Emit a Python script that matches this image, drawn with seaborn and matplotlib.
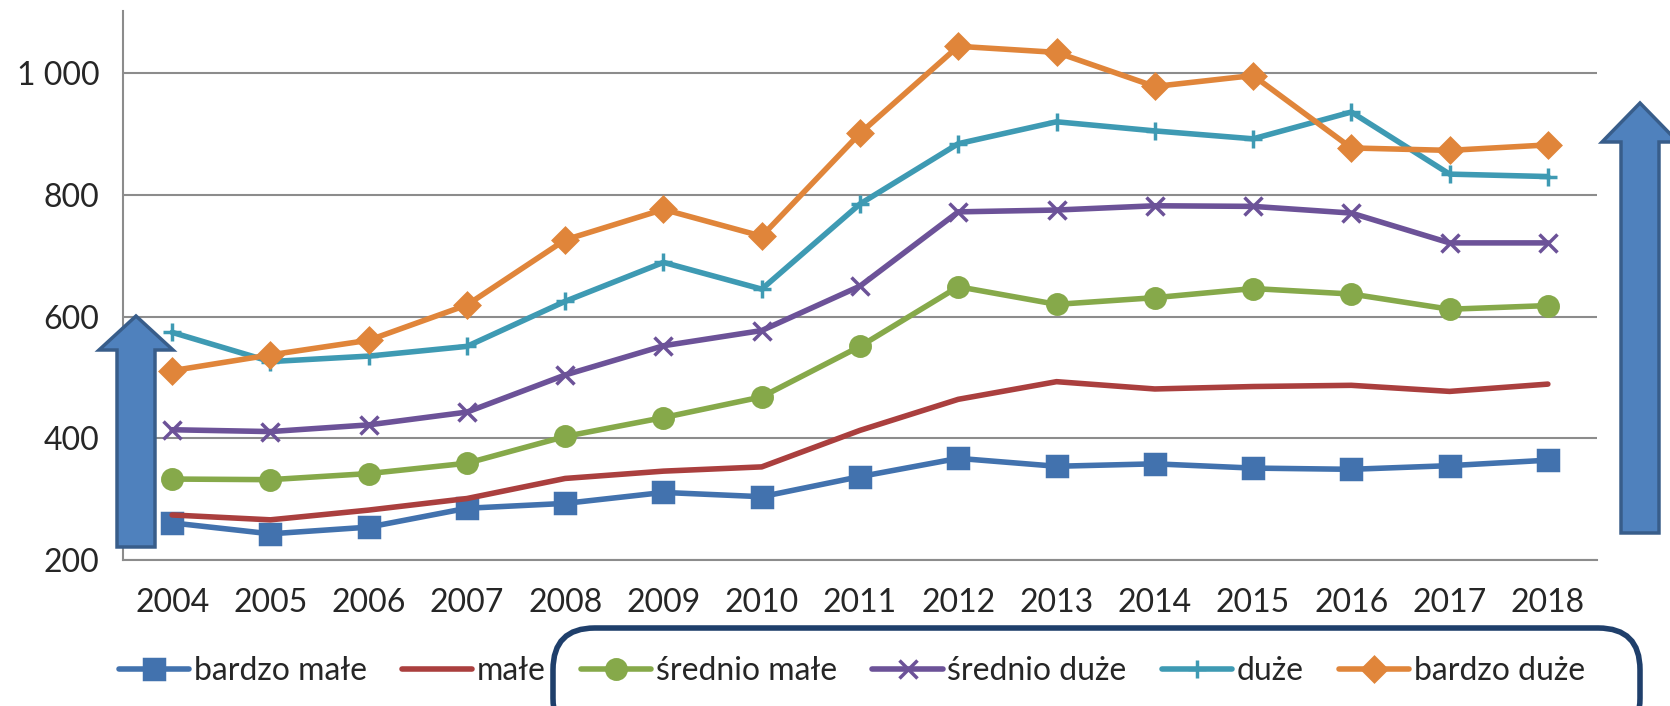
import numpy as np
import pandas as pd
import seaborn as sns
import matplotlib.pyplot as plt
from matplotlib.patches import Polygon, FancyBboxPatch
from matplotlib.ticker import FuncFormatter

# data
years = list(range(2004, 2019))
bardzo_male = [261, 243, 254, 285, 293, 311, 304, 337, 367, 354, 358, 351, 349, 355, 364]
male = [274, 266, 282, 301, 334, 346, 353, 413, 464, 493, 481, 485, 487, 477, 489]
srednio_male = [333, 332, 342, 359, 403, 434, 468, 551, 649, 620, 631, 646, 637, 612, 618]
srednio_duze = [414, 411, 422, 443, 504, 552, 577, 650, 772, 775, 782, 781, 770, 721, 721]
duze = [574, 526, 535, 551, 625, 689, 645, 785, 884, 920, 905, 892, 936, 834, 830]
bardzo_duze = [511, 537, 561, 619, 726, 776, 732, 901, 1044, 1034, 978, 996, 877, 873, 882]

names = ["bardzo małe", "małe", "średnio małe", "średnio duże", "duże", "bardzo duże"]
series = [bardzo_male, male, srednio_male, srednio_duze, duze, bardzo_duze]
colors = ["#4272AE", "#AA3F3E", "#86A94A", "#6C5298", "#3E9AB3", "#E0853A"]
markers = ["s", None, "o", "x", "+", "D"]
msizes = [14, 0, 14, 13, 13, 12]

df = pd.DataFrame({"rok": years * len(names),
                   "grupa": np.repeat(names, len(years)),
                   "wartosc": sum(series, [])})

sns.set_style("white")
plt.rcParams["font.family"] = ["Lato", "DejaVu Sans"]

W, H = 1670, 706
fig = plt.figure(figsize=(W / 100, H / 100), dpi=100)
ax = fig.add_axes([123 / W, 1 - 560 / H, (1597 - 123) / W, (560 - 11) / H])

for name, col, mk, ms in zip(names, colors, markers, msizes):
    sub = df[df["grupa"] == name]
    kw = dict(marker=mk, markersize=ms, markeredgecolor=col, markeredgewidth=2.5) if mk else {}
    sns.lineplot(data=sub, x="rok", y="wartosc", ax=ax, color=col, linewidth=4,
                 label=name, **kw)

ax.set_xlim(2003.5, 2018.5)
ax.set_ylim(200, 1102)
ax.set_yticks([200, 400, 600, 800, 1000])
ax.yaxis.set_major_formatter(FuncFormatter(lambda v, p: f"{int(v):,}".replace(",", " ")))
ax.set_xticks(years)
ax.set_xticks([y - 0.5 for y in years] + [2018.5], minor=True)
ax.tick_params(axis="x", which="major", length=0, pad=20, labelsize=23)
ax.tick_params(axis="x", which="minor", length=12, width=1.5, color="#8C8C8C", direction="out")
ax.tick_params(axis="y", length=10, width=1.5, color="#8C8C8C", pad=7, labelsize=23)
ax.set_xlabel("")
ax.set_ylabel("")
ax.grid(axis="y", color="#8C8C8C", linewidth=1.5)
ax.set_axisbelow(True)
for s in ["top", "right"]:
    ax.spines[s].set_visible(False)
for s in ["left", "bottom"]:
    ax.spines[s].set_color("#8C8C8C")
    ax.spines[s].set_linewidth(1.5)

ax.get_legend().remove()
handles, labels = ax.get_legend_handles_labels()
fig.legend(handles, labels, loc="center", bbox_to_anchor=(852 / W, 1 - 671 / H), ncol=6,
           frameon=False, fontsize=23, handlelength=2.2, handletextpad=0.15,
           columnspacing=1.1, borderaxespad=0)


def up_arrow(cx, tip, base, shaft, head, head_len):
    # pixel coords, origin at top left
    pts = [(cx, tip), (cx + head, tip + head_len), (cx + shaft, tip + head_len),
           (cx + shaft, base), (cx - shaft, base), (cx - shaft, tip + head_len),
           (cx - head, tip + head_len)]
    pts = [(x / W, 1 - y / H) for x, y in pts]
    fig.add_artist(Polygon(pts, closed=True, facecolor="#4F81BD", edgecolor="#385D8A",
                           linewidth=2.5, transform=fig.transFigure, zorder=10))


up_arrow(136, 316, 547, 19, 37, 34)
up_arrow(1640, 103, 533, 19, 38, 39)

box = FancyBboxPatch((553 / W, 1 - 740 / H), (1640 - 553) / W, (740 - 628) / H,
                     boxstyle="round,pad=0,rounding_size=0.025", transform=fig.transFigure,
                     facecolor="none", edgecolor="#1F3F6B", linewidth=4, zorder=10,
                     mutation_aspect=W / H)
fig.add_artist(box)

fig.savefig("out.png", dpi=100)
